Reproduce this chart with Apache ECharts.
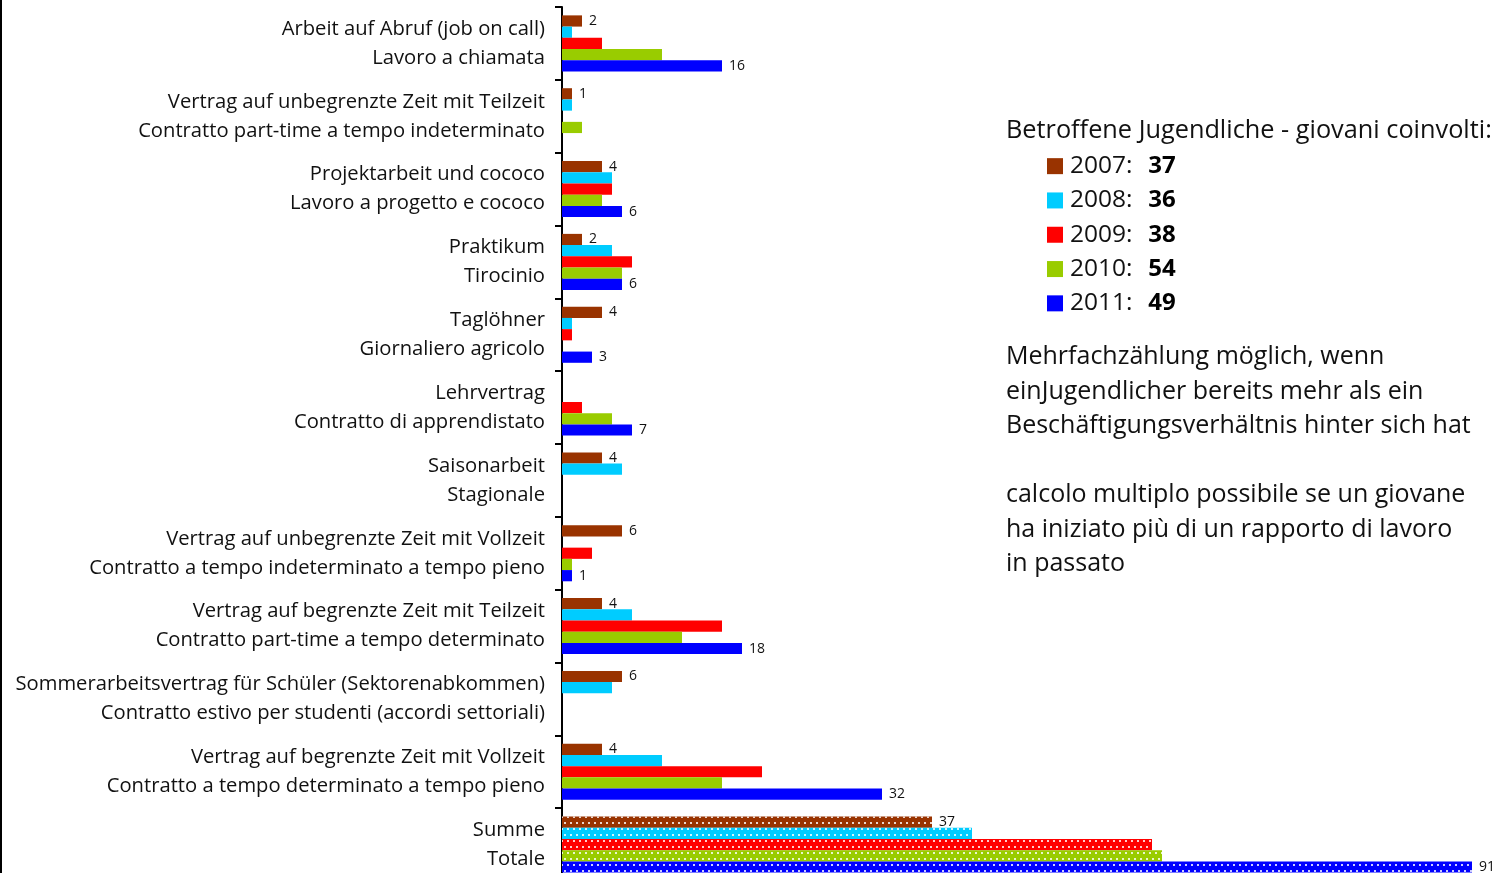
<!DOCTYPE html>
<html>
<head>
<meta charset="utf-8">
<title>Beschäftigungsverhältnisse</title>
<script src="https://cdn.jsdelivr.net/npm/echarts@6/dist/echarts.min.js"></script>
<style>
  html, body { margin: 0; padding: 0; background: #fff; }
  #chart { width: 1499px; height: 873px; }
</style>
</head>
<body>
<div id="chart"></div>
<script>
// Category labels (German line / Italian line), top to bottom
const labelsDe = [
    'Arbeit auf Abruf (job on call)',
    'Vertrag auf unbegrenzte Zeit mit Teilzeit',
    'Projektarbeit und cococo',
    'Praktikum',
    'Taglöhner',
    'Lehrvertrag',
    'Saisonarbeit',
    'Vertrag auf unbegrenzte Zeit mit Vollzeit',
    'Vertrag auf begrenzte Zeit mit Teilzeit',
    'Sommerarbeitsvertrag für Schüler (Sektorenabkommen)',
    'Vertrag auf begrenzte Zeit mit Vollzeit',
    'Summe'
];
const labelsIt = [
    'Lavoro a chiamata',
    'Contratto part-time a tempo indeterminato',
    'Lavoro a progetto e cococo',
    'Tirocinio',
    'Giornaliero agricolo',
    'Contratto di apprendistato',
    'Stagionale',
    'Contratto a tempo indeterminato a tempo pieno',
    'Contratto part-time a tempo determinato',
    'Contratto estivo per studenti (accordi settoriali)',
    'Contratto a tempo determinato a tempo pieno',
    'Totale'
];

const years = ['2007', '2008', '2009', '2010', '2011'];
const youthCounts = [37, 36, 38, 54, 49];

const values2007 = [2, 1, 4, 2, 4, 0, 4, 6, 4, 6, 4, 37];
const values2008 = [1, 1, 5, 5, 1, 0, 6, 0, 7, 5, 10, 41];
const values2009 = [4, 0, 5, 7, 1, 2, 0, 3, 16, 0, 20, 59];
const values2010 = [10, 2, 4, 6, 0, 5, 0, 1, 12, 0, 16, 60];
const values2011 = [16, 0, 6, 6, 3, 7, 0, 1, 18, 0, 32, 91];

const colors = ['#993300', '#00ccff', '#ff0000', '#99cc00', '#0000ff'];
const FONT = '"Open Sans"';

const chart = echarts.init(document.getElementById('chart'));

// dotted fill used for the totals row
const dots = {
    symbol: 'rect',
    symbolSize: 1,
    color: 'rgba(255,255,255,0.8)',
    dashArrayX: [[2, 4], [0, 3, 2, 1]],
    dashArrayY: [2, 3.5],
    rotation: 0
};
const totalIndex = labelsDe.length - 1;

function makeSeries(name, values, idx, withLabel) {
    return {
        name: name,
        type: 'bar',
        barGap: '0%',
        barCategoryGap: '23%',
        itemStyle: { color: colors[idx] },
        label: {
            show: withLabel,
            position: 'right',
            distance: 7,
            fontFamily: FONT,
            fontSize: 14,
            color: '#111',
            formatter: p => (p.value ? String(p.value) : '')
        },
        data: values.map((v, i) => i === totalIndex ? { value: v, itemStyle: { decal: dots } } : v)
    };
}

const allValues = [values2007, values2008, values2009, values2010, values2011];

const option = {
    backgroundColor: '#fff',
    animation: false,
    // the plot runs a little past the bottom edge, as in the original crop
    grid: { left: 562, right: 0, top: 7, height: 874, containLabel: false, outerBoundsMode: 'none' },
    xAxis: {
        type: 'value',
        min: 0,
        max: 93.7,
        show: false
    },
    yAxis: {
        type: 'category',
        inverse: true,
        data: labelsDe.map((d, i) => d + '\n' + labelsIt[i]),
        axisLine: { show: true, lineStyle: { color: '#000', width: 2 } },
        axisTick: { show: true, length: 7, lineStyle: { color: '#000', width: 2 } },
        axisLabel: {
            margin: 17,
            fontFamily: FONT,
            fontSize: 20.2,
            lineHeight: 29,
            color: '#111',
            align: 'right'
        }
    },
    legend: {
        orient: 'vertical',
        left: 1047,
        top: 149,
        padding: 0,
        icon: 'rect',
        itemWidth: 16,
        itemHeight: 16,
        itemGap: 0,
        data: years,
        formatter: name => name + ':  {b|' + youthCounts[years.indexOf(name)] + '}',
        textStyle: {
            fontFamily: FONT,
            fontSize: 24.5,
            lineHeight: 34.3,
            color: '#111',
            padding: [0, 0, 0, 2],
            rich: {
                b: { fontFamily: FONT, fontSize: 24, fontWeight: 'bold', lineHeight: 34.3, color: '#000', padding: [0, 0, 0, 3] }
            }
        }
    },
    graphic: [
        {
            type: 'rect',
            left: 0, top: 0,
            shape: { width: 2, height: 873 },
            style: { fill: '#000' }
        },
        {
            type: 'text',
            x: 1006, y: 131,
            style: {
                text: 'Betroffene Jugendliche - giovani coinvolti:',
                fontFamily: FONT, fontSize: 25.3, fill: '#111',
                verticalAlign: 'middle'
            }
        },
        {
            type: 'text',
            x: 1006, y: 340,
            style: {
                text: 'Mehrfachzählung möglich, wenn\neinJugendlicher bereits mehr als ein\nBeschäftigungsverhältnis hinter sich hat\n\ncalcolo multiplo possibile se un giovane\nha iniziato più di un rapporto di lavoro\nin passato',
                fontFamily: FONT, fontSize: 25, lineHeight: 34.5, fill: '#111',
                verticalAlign: 'top'
            }
        }
    ],
    series: years.map((y, i) => makeSeries(y, allValues[i], i, i === 0 || i === 4))
};

chart.setOption(option);
</script>
</body>
</html>
